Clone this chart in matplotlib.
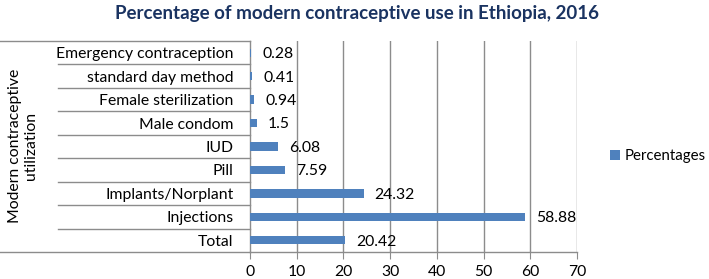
import matplotlib
matplotlib.use("Agg")
import matplotlib.pyplot as plt
import matplotlib.transforms as mtransforms

categories = ["Total", "Injections", "Implants/Norplant", "Pill", "IUD",
              "Male condom", "Female sterilization", "standard day method",
              "Emergency contraception"]
values = [20.42, 58.88, 24.32, 7.59, 6.08, 1.5, 0.94, 0.41, 0.28]
value_labels = ["20.42", "58.88", "24.32", "7.59", "6.08", "1.5", "0.94", "0.41", "0.28"]
xticks = [0, 10, 20, 30, 40, 50, 60, 70]
series_name = "Percentages"
title = "Percentage of modern contraceptive use in Ethiopia, 2016"
ylabel = "Modern contraceptive\nutilization"

plt.rcParams['font.family'] = ['Lato', 'DejaVu Sans']

W, H = 709, 279
fig = plt.figure(figsize=(W / 100, H / 100), dpi=100)
x0, x1, ytop, ybot = 250, 577, 41, 252
ax = fig.add_axes([x0 / W, (H - ybot) / H, (x1 - x0) / W, (ybot - ytop) / H])

bar_color = "#4F81BD"
grid_color = "#8C8C8C"
ypos = list(range(len(categories)))
ax.barh(ypos, values, height=0.36, color=bar_color, label=series_name, zorder=3)

fs = 11.3
ax.set_xlim(0, 70)
ax.set_ylim(-0.5, len(categories) - 0.5)
ax.set_xticks(xticks)
ax.set_xticklabels([str(t) for t in xticks], fontsize=fs)
ax.tick_params(axis='x', length=5, color=grid_color, pad=4)
ax.set_yticks(ypos)
ax.set_yticklabels(categories, fontsize=fs)
ax.tick_params(axis='y', length=0, pad=12)
for t in xticks[1:]:
    ax.axvline(t, color=grid_color, lw=1, zorder=1)
for s in ['top', 'right']:
    ax.spines[s].set_visible(False)
for s in ['left', 'bottom']:
    ax.spines[s].set_color(grid_color)
    ax.spines[s].set_linewidth(1)

# category separators (Excel-style multi-level axis)
left_sep = (58 - x0) / (x1 - x0)
left_out = (0 - x0) / (x1 - x0)
trans = mtransforms.blended_transform_factory(ax.transAxes, ax.transData)
for i in range(len(categories) + 1):
    yb = i - 0.5
    xs = left_out if i in (0, len(categories)) else left_sep
    ax.plot([xs, 0], [yb, yb], transform=trans, color=grid_color, lw=1, clip_on=False)

for y, v, lab in zip(ypos, values, value_labels):
    ax.annotate(lab, (v, y), xytext=(8, -1), textcoords='offset points',
                va='center', ha='left', fontsize=fs)

fig.text(23 / W, 1 - 146 / H, ylabel, rotation=90, ha='center', va='center',
         fontsize=fs, linespacing=1.25)
fig.text(357 / W, 1 - 13 / H, title, ha='center', va='center', fontsize=13.5,
         fontweight='bold', color='#1A3361')

leg = fig.legend(loc='center left', bbox_to_anchor=(610 / W, 1 - 156 / H), frameon=False,
                 fontsize=10.8, handlelength=0.65, handleheight=0.65, handletextpad=0.35,
                 borderaxespad=0, borderpad=0)

fig.savefig("out.png", dpi=100)
